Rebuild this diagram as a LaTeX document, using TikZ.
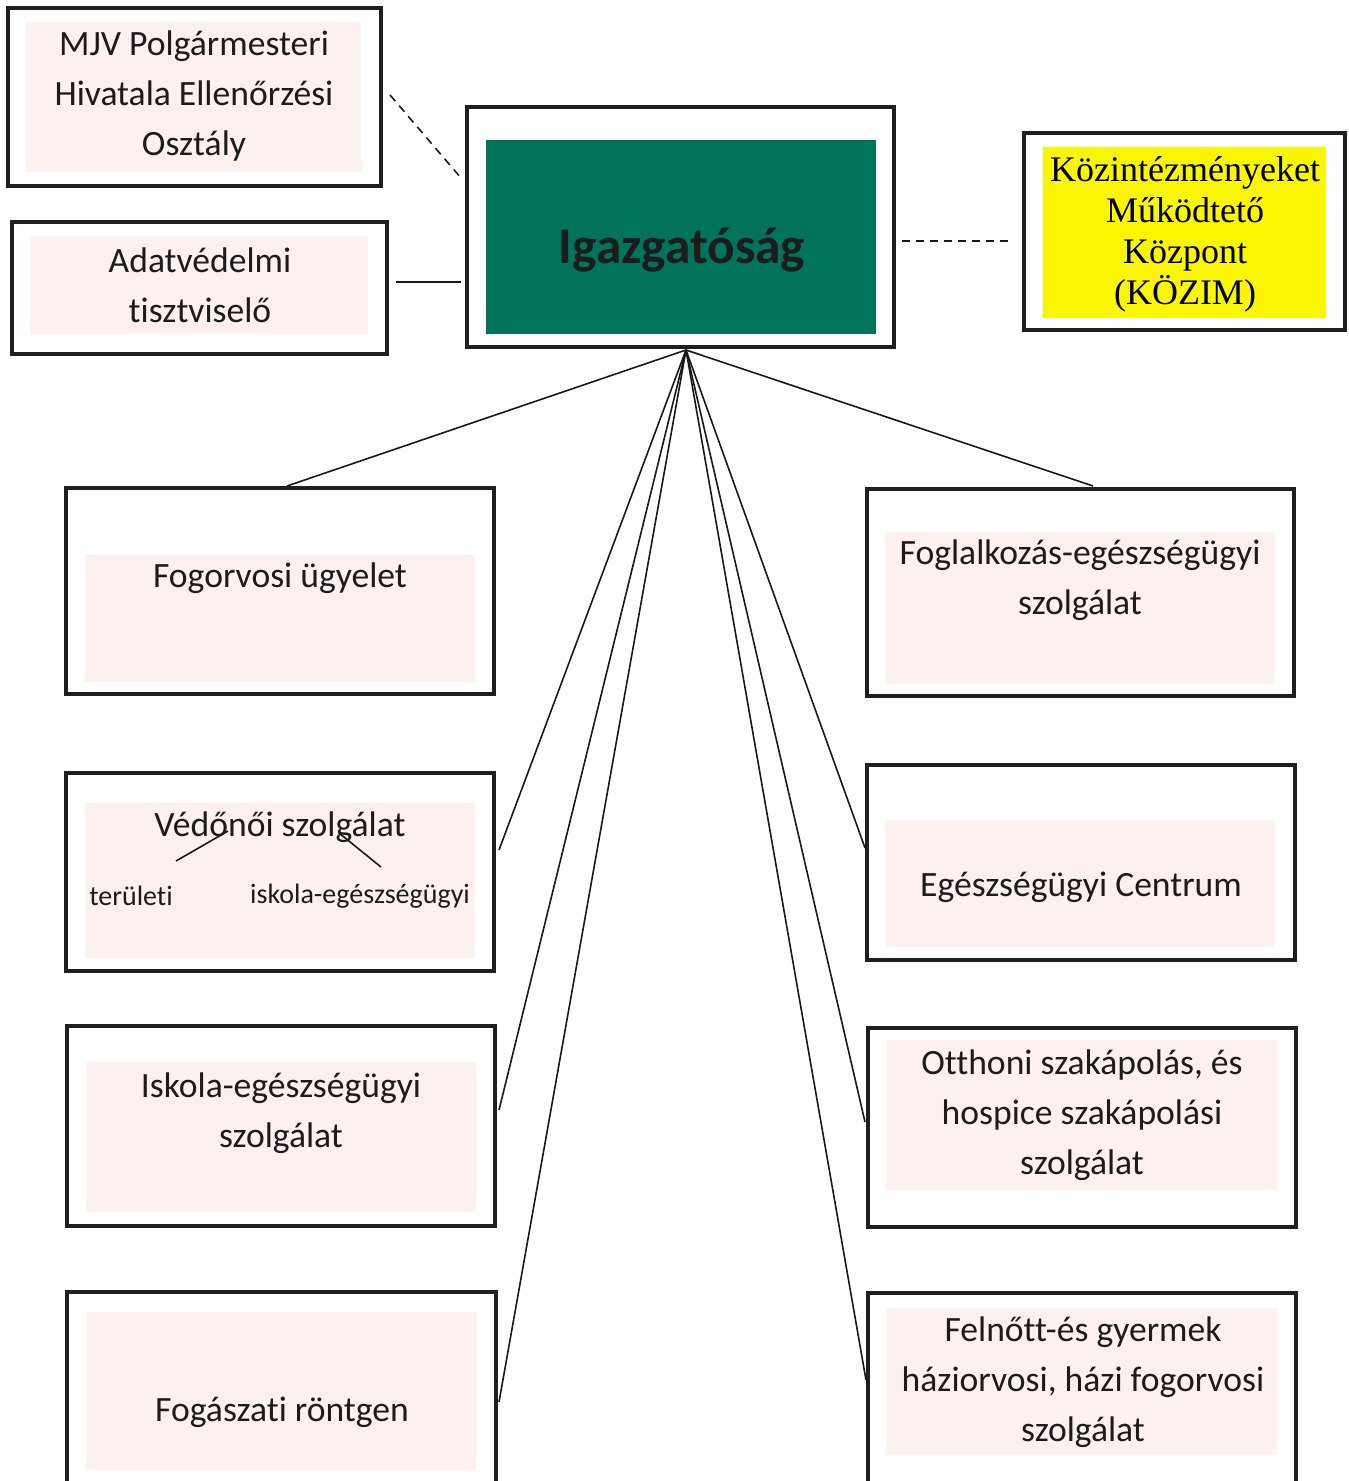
\documentclass[tikz,border=0pt]{standalone}
\usepackage{fontspec}
\setmainfont{Carlito}[Ligatures=NoCommon]
\newfontfamily\timesf{Liberation Serif}
\usetikzlibrary{calc}
\definecolor{pinkbg}{RGB}{252,241,239}
\definecolor{igazgreen}{RGB}{0,116,90}
\definecolor{kozyellow}{RGB}{250,246,0}
\definecolor{darktext}{RGB}{28,28,28}
\begin{document}
\begin{tikzpicture}[x=0.5pt,y=-0.5pt,
  box/.style={draw=black!88,line width=2pt,rectangle,inner sep=0pt},
  body/.style={font=\fontsize{17.8}{25}\selectfont,align=center,inner sep=0pt,text=darktext},
  small/.style={font=\fontsize{14}{15}\selectfont,inner sep=0pt,text=darktext},
  link/.style={line width=0.8pt,black!90},
  dlink/.style={line width=0.8pt,black!90,dash pattern=on 4pt off 3pt}]
\useasboundingbox (0,0) rectangle (1348,1481);
\clip (0,0) rectangle (1348,1481);
\fill[white] (0,0) rectangle (1348,1481);

% inner fills
\fill[pinkbg] (26,22) rectangle (361,172);
\fill[pinkbg] (30,236) rectangle (368,334);
\fill[igazgreen] (486,140) rectangle (876,334);
\fill[kozyellow] (1043,147) rectangle (1326,318);
\fill[pinkbg] (85,555) rectangle (475,682);
\fill[pinkbg] (885,532) rectangle (1275,684);
\fill[pinkbg] (85,803) rectangle (475,958);
\fill[pinkbg] (885,820) rectangle (1275,947);
\fill[pinkbg] (86,1062) rectangle (476,1212);
\fill[pinkbg] (886,1040) rectangle (1277,1190);
\fill[pinkbg] (86,1312) rectangle (476,1470);
\fill[pinkbg] (886,1308) rectangle (1277,1455);

% outer boxes
\node[box,minimum width=186.5pt,minimum height=89pt] (mjv) at (194.5,97) {};
\node[box,minimum width=187.5pt,minimum height=66pt] (adat) at (199.5,288) {};
\node[box,minimum width=213.5pt,minimum height=120pt] (igaz) at (680.5,227) {};
\node[box,minimum width=160.5pt,minimum height=98.5pt] (kozim) at (1184.5,231.5) {};
\node[box,minimum width=214pt,minimum height=103pt] (fogorv) at (280,591) {};
\node[box,minimum width=213.5pt,minimum height=103.5pt] (foglalk) at (1080.5,592.5) {};
\node[box,minimum width=214pt,minimum height=99pt] (vedo) at (280,872) {};
\node[box,minimum width=214pt,minimum height=97.5pt] (egc) at (1081,862.5) {};
\node[box,minimum width=214pt,minimum height=100pt] (isk) at (281,1126) {};
\node[box,minimum width=214pt,minimum height=99.5pt] (otth) at (1082,1127.5) {};
\node[box,minimum width=214.5pt,minimum height=109pt] (fogasz) at (281.5,1401) {};
\node[box,minimum width=214pt,minimum height=108.5pt] (feln) at (1082,1401.5) {};

% texts
\node[body] (tmjv) at (194,96) {MJV Polgármesteri\\Hivatala Ellenőrzési\\Osztály};
\node[body] (tadat) at (200,285) {Adatvédelmi\\tisztviselő};
\node[inner sep=0pt,text=darktext,font=\fontsize{25.7}{28}\bfseries\selectfont] (tigaz) at (682,250) {Igazgatóság};
\node[inner sep=0pt,align=center,text=black,font=\timesf\fontsize{18}{20.5}\selectfont] (tkoz) at (1185,234) {Közintézményeket\\Működtető\\Központ\\(KÖZIM)};
\node[body] (tfogorv) at (280,578) {Fogorvosi ügyelet};
\node[body] (tfoglalk) at (1080,580) {Foglalkozás-egészségügyi\\szolgálat};
\node[body] (tvedo) at (280,827) {Védőnői szolgálat};
\node[small] (tter) at (131,896) {területi};
\node[small] (tiskeg) at (360,896) {iskola-egészségügyi};
\node[body] (tegc) at (1081,887) {Egészségügyi Centrum};
\node[body] (tisk) at (281,1113) {Iskola-egészségügyi\\szolgálat};
\node[body] (totth) at (1082,1115) {Otthoni szakápolás, és\\hospice szakápolási\\szolgálat};
\node[body] (tfogasz) at (282,1412) {Fogászati röntgen};
\node[body] (tfeln) at (1083,1382) {Felnőtt-és gyermek\\háziorvosi, házi fogorvosi\\szolgálat};

% small branch lines inside Védőnői box
\coordinate (v1a) at (176,861);
\coordinate (v1b) at (228,831);
\coordinate (v2a) at (339,833);
\coordinate (v2b) at (381,867);
\draw[link] (v1a) -- (v1b);
\draw[link] (v2a) -- (v2b);

% side connectors
\draw[dlink] ($(mjv.east)+(7,-2)$) -- ($(igaz.west)+(-4,-49)$);
\draw[link] ($(adat.east)+(7,-6)$) -- ($(igaz.west)+(-4,55)$);
\draw[dlink] ($(igaz.east)+(6,14)$) -- ($(kozim.west)+(-9,9.5)$);

% hub connectors
\coordinate (hub) at ($(igaz.south)+(5.5,1)$);
\draw[link] (hub) -- ($(fogorv.north)+(7,0)$);
\draw[link] (hub) -- ($(foglalk.north)+(12.5,-1)$);
\draw[link] (hub) -- ($(vedo.east)+(3,-22)$);
\draw[link] (hub) -- ($(isk.east)+(2,-16)$);
\draw[link] (hub) -- ($(fogasz.east)+(1,1)$);
\draw[link] (hub) -- ($(egc.west)+(0,-14.5)$);
\draw[link] (hub) -- ($(otth.west)+(-1,-5.5)$);
\draw[link] (hub) -- ($(feln.west)+(0,-21.5)$);
\end{tikzpicture}
\end{document}
